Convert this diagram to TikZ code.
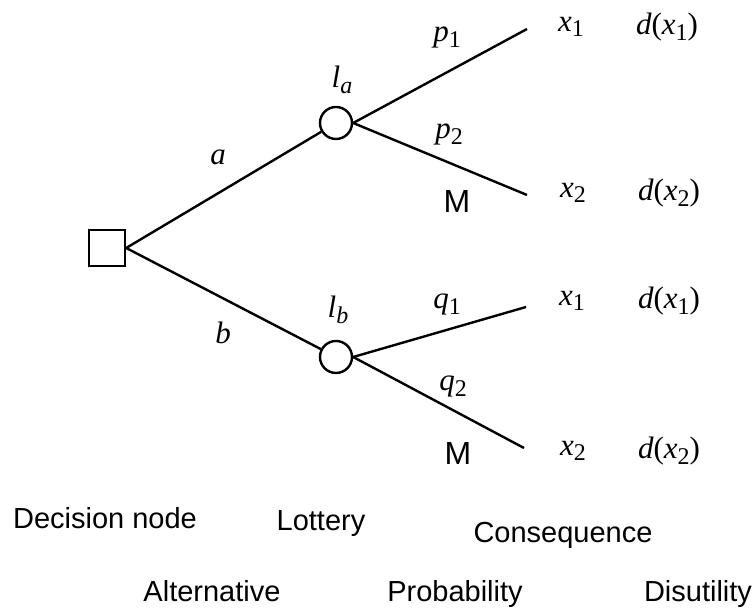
\documentclass[tikz,border=0pt]{standalone}
\usepackage{fontspec}
\setmainfont{Liberation Serif}
\setsansfont{Liberation Sans}
\newcommand{\lowidx}[1]{\raisebox{-0.4ex}{\fontsize{12}{13}\selectfont #1}}
\newcommand{\mvar}[2]{\textit{#1}\lowidx{#2}}

\begin{document}
\begin{tikzpicture}[x=0.5pt,y=-0.5pt,line width=1.2pt,
  dnode/.style={draw,rectangle,minimum size=18pt,inner sep=0pt},
  lnode/.style={draw,circle,minimum size=16pt,inner sep=0pt},
  sym/.style={font=\fontsize{15.5}{18}\selectfont,inner sep=1pt},
  mlab/.style={font=\sffamily\fontsize{16}{19}\selectfont,inner sep=1pt},
  legendtxt/.style={font=\sffamily\fontsize{14.5}{17}\selectfont,anchor=base,inner sep=0pt}]
\useasboundingbox (0,0) rectangle (756,613);
% tree
\node[dnode] (dec) at (107,248) {};
\node[lnode] (la) at (336,123) {};
\node[lnode] (lb) at (336,357) {};
\coordinate (ea1) at (527,29);
\coordinate (ea2) at (527,195);
\coordinate (eb1) at (526,307);
\coordinate (eb2) at (524,448);
\draw (dec.east) -- (la);
\draw (dec.east) -- (lb);
\draw (la.east) -- (ea1);
\draw (la.east) -- (ea2);
\draw (lb.east) -- (eb1);
\draw (lb.east) -- (eb2);
% branch labels
\node[sym] (alab) at (218,157) {\textit{a}};
\node[sym] (blab) at (223,333) {\textit{b}};
\node[sym] (lalab) at (342,80) {\textit{l}\lowidx{\textit{a}}};
\node[sym] (lblab) at (338,310) {\textit{l}\lowidx{\textit{b}}};
\node[sym] (p1) at (447,38) {\mvar{p}{1}};
\node[sym] (p2) at (449,135) {\mvar{p}{2}};
\node[sym] (q1) at (447,305) {\mvar{q}{1}};
\node[sym] (q2) at (453,387) {\mvar{q}{2}};
\node[mlab] (ma) at (457,202) {M};
\node[mlab] (mb) at (458,453) {M};
% consequences
\node[sym] (xa1) at (571,27) {\mvar{x}{1}};
\node[sym] (da1) at (667,27) {\textit{d}(\mvar{x}{1})};
\node[sym] (xa2) at (573,193) {\mvar{x}{2}};
\node[sym] (da2) at (669,193) {\textit{d}(\mvar{x}{2})};
\node[sym] (xb1) at (572,301) {\mvar{x}{1}};
\node[sym] (db1) at (669,301) {\textit{d}(\mvar{x}{1})};
\node[sym] (xb2) at (573,451) {\mvar{x}{2}};
\node[sym] (db2) at (669,451) {\textit{d}(\mvar{x}{2})};
% legend
\node[legendtxt] (ldec) at (105,529) {Decision node};
\node[legendtxt] (llot) at (321,531) {Lottery};
\node[legendtxt] (lcon) at (563,543) {Consequence};
\node[legendtxt] (lalt) at (212,602) {Alternative};
\node[legendtxt] (lpro) at (455,602) {Probability};
\node[legendtxt] (ldis) at (698,602) {Disutility};
\end{tikzpicture}
\end{document}
